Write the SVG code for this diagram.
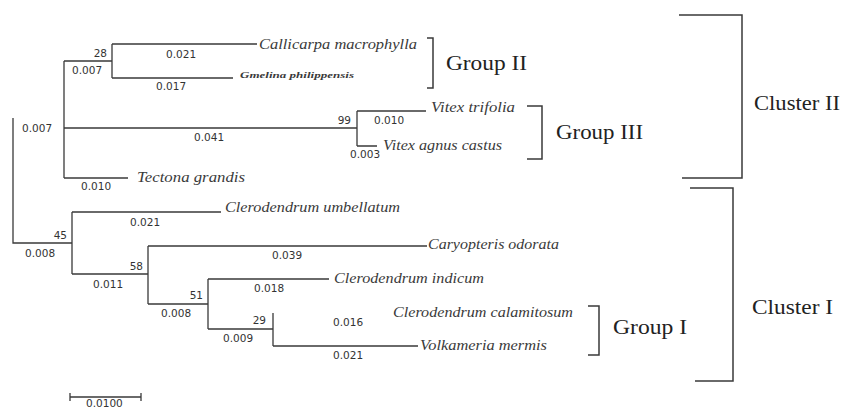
<svg xmlns="http://www.w3.org/2000/svg" width="843" height="410" viewBox="0 0 843 410">
<style>
.ln{stroke:#3a3a3a;stroke-width:1.3;fill:none}
.br{stroke:#3a3a3a;stroke-width:1.5;fill:none}
.num{font-family:"DejaVu Sans",sans-serif;font-size:10.5px;fill:#333}
.sp{font-family:"Liberation Serif",serif;font-style:italic;font-size:14px;fill:#3a3a3a}
.grp{font-family:"Liberation Serif",serif;font-size:21px;fill:#222}
</style>
<rect width="843" height="410" fill="#fff"/>
<g id="connectors">
<path class="ln" d="M13,118V243H72"/>
<path class="ln" d="M64,61V178"/>
<path class="ln" d="M64,61H112M112,44V78M112,44H257M112,78H233"/>
<path class="ln" d="M64,128H357M357,111V146M357,111H426M357,146H377"/>
<path class="ln" d="M64,178H128"/>
<path class="ln" d="M72,212V274M72,212H221M72,274H148"/>
<path class="ln" d="M148,246V304M148,246H427M148,304H208"/>
<path class="ln" d="M208,279V329M208,279H329M208,329H273"/>
<path class="ln" d="M273,313V346M273,346H418"/>
<path class="ln" d="M70,397H141M70,393V401M141,393V401"/>
</g>
<g id="branch-labels">
<text class="num" x="107" y="57" text-anchor="end">28</text>
<text class="num" x="72" y="74">0.007</text>
<text class="num" x="166" y="58">0.021</text>
<text class="num" x="156" y="90">0.017</text>
<text class="num" x="22" y="132">0.007</text>
<text class="num" x="194" y="141">0.041</text>
<text class="num" x="81" y="190">0.010</text>
<text class="num" x="351" y="124" text-anchor="end">99</text>
<text class="num" x="374" y="124">0.010</text>
<text class="num" x="350" y="158">0.003</text>
<text class="num" x="130" y="226">0.021</text>
<text class="num" x="67" y="239" text-anchor="end">45</text>
<text class="num" x="25" y="257">0.008</text>
<text class="num" x="93" y="288">0.011</text>
<text class="num" x="143" y="270" text-anchor="end">58</text>
<text class="num" x="272" y="259">0.039</text>
<text class="num" x="203" y="299" text-anchor="end">51</text>
<text class="num" x="254" y="292">0.018</text>
<text class="num" x="161" y="317">0.008</text>
<text class="num" x="266" y="324" text-anchor="end">29</text>
<text class="num" x="223" y="342">0.009</text>
<text class="num" x="333" y="326">0.016</text>
<text class="num" x="333" y="359">0.021</text>
<text class="num" x="86" y="407">0.0100</text>
</g>
<g id="taxa">
<text id="callicarpa" class="sp" x="259" y="49" textLength="158" lengthAdjust="spacingAndGlyphs">Callicarpa macrophylla</text>
<text id="gmelina" class="sp" x="240" y="78" style="font-size:9px;font-weight:bold" textLength="114" lengthAdjust="spacingAndGlyphs">Gmelina philippensis</text>
<text id="vitex-trifolia" class="sp" x="431" y="112" textLength="84" lengthAdjust="spacingAndGlyphs">Vitex trifolia</text>
<text id="vitex-agnus" class="sp" x="383" y="150" textLength="119" lengthAdjust="spacingAndGlyphs">Vitex agnus castus</text>
<text id="tectona" class="sp" x="137" y="182" textLength="108" lengthAdjust="spacingAndGlyphs">Tectona grandis</text>
<text id="umbellatum" class="sp" x="225" y="212" textLength="175" lengthAdjust="spacingAndGlyphs">Clerodendrum umbellatum</text>
<text id="caryopteris" class="sp" x="428" y="249" textLength="131" lengthAdjust="spacingAndGlyphs">Caryopteris odorata</text>
<text id="indicum" class="sp" x="334" y="283" textLength="150" lengthAdjust="spacingAndGlyphs">Clerodendrum indicum</text>
<text id="calamitosum" class="sp" x="393" y="317" textLength="180" lengthAdjust="spacingAndGlyphs">Clerodendrum calamitosum</text>
<text id="volkameria" class="sp" x="420" y="350" textLength="127" lengthAdjust="spacingAndGlyphs">Volkameria mermis</text>
</g>
<g id="group-ii">
<path class="br" d="M427,38H433V88H427"/>
<text class="grp" x="446" y="70" textLength="81" lengthAdjust="spacingAndGlyphs">Group II</text>
</g>
<g id="group-iii">
<path class="br" d="M527,106H542V159H527"/>
<text class="grp" x="556" y="139" textLength="87" lengthAdjust="spacingAndGlyphs">Group III</text>
</g>
<g id="group-i">
<path class="br" d="M588,306H599V355H588"/>
<text class="grp" x="613" y="334" textLength="74" lengthAdjust="spacingAndGlyphs">Group I</text>
</g>
<g id="cluster-ii">
<path class="br" d="M679,15H742V178H682"/>
<text class="grp" x="754" y="110" textLength="86" lengthAdjust="spacingAndGlyphs">Cluster II</text>
</g>
<g id="cluster-i">
<path class="br" d="M690,188H733V381H695"/>
<text class="grp" x="752" y="314" textLength="81" lengthAdjust="spacingAndGlyphs">Cluster I</text>
</g>
</svg>
